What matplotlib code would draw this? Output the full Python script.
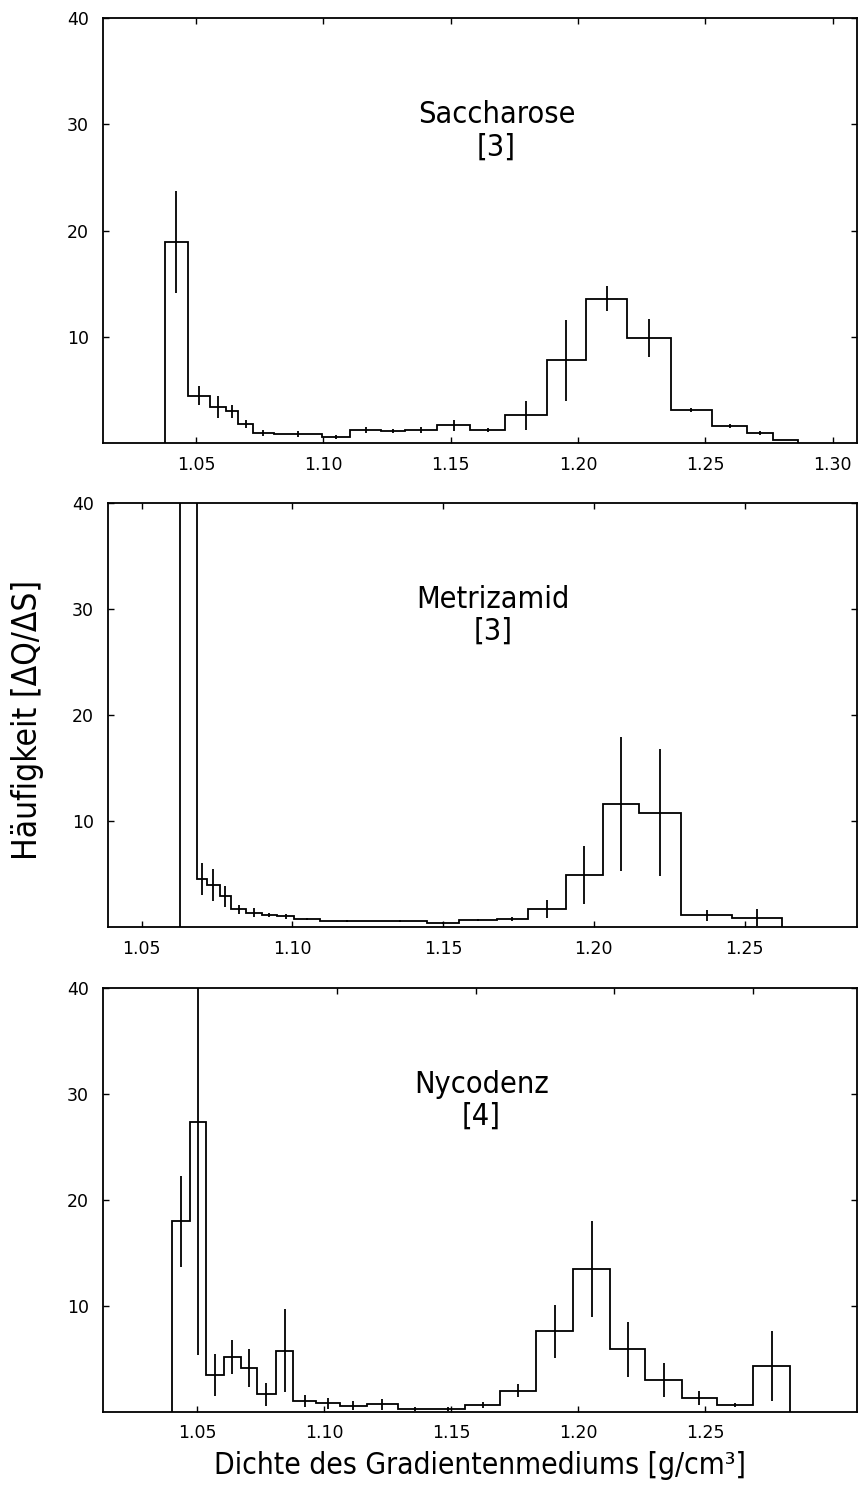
import matplotlib
matplotlib.use("Agg")
import matplotlib.pyplot as plt
from matplotlib import font_manager as fm
import numpy as np

# ---------------- data ----------------
# Saccharose
sac_edges = [1.0380, 1.0467, 1.0556, 1.0616, 1.0666, 1.0724, 1.0806, 1.0993, 1.1106,
             1.1226, 1.1322, 1.1446, 1.1576, 1.1715, 1.1878, 1.2031, 1.2193, 1.2363,
             1.2526, 1.2663, 1.2764, 1.2865]
sac_values = [18.9, 4.45, 3.4, 3.0, 1.8, 0.95, 0.85, 0.55, 1.2, 1.15, 1.25, 1.65, 1.2,
              2.6, 7.8, 13.6, 9.9, 3.1, 1.6, 0.94, 0.31]
sac_errors = [4.8, 0.9, 1.0, 0.6, 0.4, 0.3, 0.3, 0.2, 0.3, 0.2, 0.3, 0.5, 0.2, 1.4,
              3.8, 1.2, 1.8, 0.2, 0.2, 0.2, 0.0]

# Metrizamid
met_edges = [1.0627, 1.0682, 1.0718, 1.0758, 1.0797, 1.0846, 1.0898, 1.0948, 1.1006,
             1.1093, 1.1268, 1.1445, 1.1552, 1.1677, 1.1782, 1.1906, 1.2029, 1.2151,
             1.2289, 1.2459, 1.2625]
met_values = [80.0, 4.5, 4.0, 2.9, 1.67, 1.35, 1.1, 1.0, 0.72, 0.6, 0.58, 0.4, 0.63,
              0.75, 1.7, 4.9, 11.6, 10.8, 1.1, 0.88]
met_errors = [20.0, 1.5, 1.5, 1.0, 0.4, 0.4, 0.2, 0.2, 0.1, 0.1, 0.1, 0.1, 0.1, 0.15,
              0.85, 2.7, 6.3, 6.0, 0.55, 0.8]

# Nycodenz
nyc_edges = [1.0402, 1.0472, 1.0535, 1.0606, 1.0673, 1.0736, 1.0811, 1.0878, 1.0969,
             1.1063, 1.1169, 1.1291, 1.1425, 1.1555, 1.1693, 1.1835, 1.1980, 1.2126,
             1.2264, 1.2409, 1.2547, 1.2689, 1.2835]
nyc_values = [18.0, 27.4, 3.5, 5.17, 4.13, 1.67, 5.77, 1.04, 0.82, 0.6, 0.73, 0.28, 0.3,
              0.69, 2.0, 7.6, 13.5, 5.93, 3.0, 1.32, 0.63, 4.3]
nyc_errors = [4.3, 22.0, 2.0, 1.6, 1.8, 1.1, 3.9, 0.6, 0.5, 0.4, 0.5, 0.2, 0.2, 0.3,
              0.6, 2.5, 4.5, 2.6, 1.6, 0.65, 0.2, 3.3]

titles = ["Saccharose\n[3]", "Metrizamid\n[3]", "Nycodenz\n[4]"]
title_x = [1.168, 1.1666, 1.162]
sac_xticks = [1.05, 1.10, 1.15, 1.20, 1.25, 1.30]
met_xticks = [1.05, 1.10, 1.15, 1.20, 1.25]
nyc_xticks = [1.05, 1.10, 1.15, 1.20, 1.25]
nyc_top_ticks = [1.1051, 1.1598, 1.2142, 1.2689]
yticks = [10, 20, 30, 40]
xlabel = "Dichte des Gradientenmediums [g/cm³]"
ylabel = "Häufigkeit [ΔQ/ΔS]"


# ---------------- condensed font lookup ----------------
def find_condensed():
    best = None
    best_score = None
    for f in fm.fontManager.ttflist:
        name = f.name.lower()
        st = f.stretch
        if isinstance(st, str):
            st_val = {"ultra-condensed": 100, "extra-condensed": 200, "condensed": 300,
                      "semi-condensed": 400, "normal": 500}.get(st, 500)
        else:
            st_val = st
        cond = ("condensed" in name or "narrow" in name or st_val < 500
                or "condensed" in f.fname.lower())
        if not cond:
            continue
        if f.style != "normal":
            continue
        w = f.weight if isinstance(f.weight, int) else 400
        fl = f.fname.lower()
        if "bold" in fl or "light" in fl or "thin" in fl:
            continue
        if "mono" in name or ("serif" in name and "sans" not in name):
            continue
        if "extracondensed" in fl or "extra-condensed" in fl or "extra condensed" in name:
            cscore = 1
        elif "semicondensed" in fl or "semi" in name:
            cscore = 2
        else:
            cscore = 0
        score = (cscore, abs(w - 400), len(f.fname))
        if best_score is None or score < best_score:
            best, best_score = f, score
    return best


_cf = find_condensed()
if _cf is not None:
    def LF(size):
        return fm.FontProperties(fname=_cf.fname, size=size)
else:
    def LF(size):
        return fm.FontProperties(family="DejaVu Sans", size=size)

# ---------------- layout ----------------
W, H = 859, 1501
fig = plt.figure(figsize=(W / 100, H / 100), dpi=100)


def make_ax(left, right, top, bottom):
    return fig.add_axes([left / W, 1 - bottom / H, (right - left) / W, (bottom - top) / H])


panels = [
    (make_ax(103, 857, 18, 443), sac_edges, sac_values, sac_errors, (1.0135, 1.3095), sac_xticks, None),
    (make_ax(108, 857, 503, 927), met_edges, met_values, met_errors, (1.0388, 1.2873), met_xticks, None),
    (make_ax(103, 857, 988, 1412), nyc_edges, nyc_values, nyc_errors, (1.0130, 1.3098), nyc_xticks, nyc_top_ticks),
]

for i, (ax, edges, vals, errs, xlim, xt, topt) in enumerate(panels):
    edges = np.asarray(edges)
    vals = np.asarray(vals)
    centers = 0.5 * (edges[:-1] + edges[1:])
    ax.stairs(vals, edges, baseline=0, color="black", lw=1.3)
    ax.errorbar(centers, vals, yerr=errs, fmt="none", ecolor="black",
                elinewidth=1.3, capsize=0)
    ax.set_xlim(*xlim)
    ax.set_ylim(0, 40)
    ax.set_xticks(xt)
    ax.set_xticklabels([f"{v:.2f}" for v in xt])
    ax.set_yticks(yticks)
    ax.set_yticklabels([str(v) for v in yticks])
    ax.tick_params(axis="both", direction="in", length=4, width=1.0,
                   labelsize=12.5, pad=9, colors="black")
    ax.tick_params(axis="y", right=True, pad=10)
    if topt is None:
        ax.tick_params(axis="x", top=True)
    else:
        axt = ax.twiny()
        axt.set_xlim(*xlim)
        axt.set_xticks(topt)
        axt.set_xticklabels([])
        axt.tick_params(axis="x", direction="in", length=4, width=1.0)
        for s in axt.spines.values():
            s.set_visible(False)
    for s in ax.spines.values():
        s.set_linewidth(1.3)
    for lab in ax.get_xticklabels() + ax.get_yticklabels():
        lab.set_family("DejaVu Sans")
    ax.text(title_x[i], 29.4, titles[i], ha="center", va="center",
            fontproperties=LF(22), linespacing=1.15)

fig.text(28 / W, 1 - 720 / H, ylabel, rotation=90, ha="center", va="center",
         fontproperties=LF(24))
fig.text(480 / W, 1 - 1466 / H, xlabel, ha="center", va="center",
         fontproperties=LF(21.5))

fig.savefig("out.png", dpi=100, facecolor="white")
